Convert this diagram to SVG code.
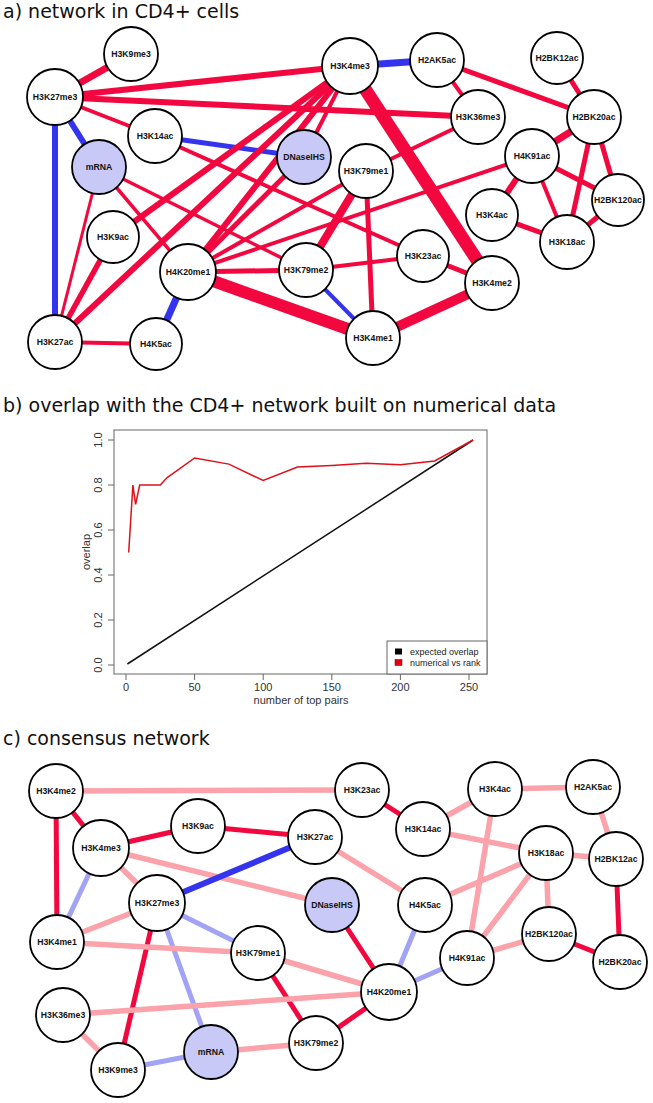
<svg xmlns="http://www.w3.org/2000/svg" width="653" height="1103" viewBox="0 0 653 1103">
<style>
.title{font-family:"DejaVu Sans",Verdana,sans-serif;font-size:19px;fill:#111}
.nd circle{fill:#fff;stroke:#000;stroke-width:1.8}
.nd.f circle{fill:#c9c9f7}
.nd text{font-family:"Liberation Sans",Arial,sans-serif;font-weight:bold;font-size:8.7px;text-anchor:middle;fill:#111}
.e line{stroke-linecap:butt}
.r{stroke:#f2073e}
.lr{stroke:#fba2aa}
.b{stroke:#3434ee}
.lb{stroke:#a3a3f6}
.ax{font-family:"Liberation Sans",Arial,sans-serif;font-size:11px;fill:#333}
.lg{font-family:"Liberation Sans",Arial,sans-serif;font-size:9px;fill:#222}
</style>
<rect width="653" height="1103" fill="#fff"/>
<text class="title" x="3" y="18">a) network in CD4+ cells</text>
<text class="title" x="3" y="412">b) overlap with the CD4+ network built on numerical data</text>
<text class="title" x="3" y="745">c) consensus network</text>

<g id="edges-a" class="e">
<line class="r" stroke-width="7" x1="131" y1="54" x2="55" y2="97"/>
<line class="r" stroke-width="6" x1="55" y1="97" x2="350" y2="66"/>
<line class="r" stroke-width="6" x1="55" y1="97" x2="478" y2="117"/>
<line class="r" stroke-width="4" x1="55" y1="97" x2="155" y2="136"/>
<line class="b" stroke-width="6" x1="55" y1="97" x2="99" y2="167"/>
<line class="b" stroke-width="6" x1="55" y1="97" x2="55" y2="342"/>
<line class="b" stroke-width="5" x1="155" y1="136" x2="304" y2="157"/>
<line class="r" stroke-width="4" x1="155" y1="136" x2="423" y2="256"/>
<line class="r" stroke-width="3.5" x1="99" y1="167" x2="306" y2="270"/>
<line class="r" stroke-width="3.5" x1="99" y1="167" x2="188" y2="272"/>
<line class="r" stroke-width="3" x1="99" y1="167" x2="55" y2="342"/>
<line class="r" stroke-width="5.5" x1="113" y1="237" x2="55" y2="342"/>
<line class="r" stroke-width="6" x1="113" y1="237" x2="350" y2="66"/>
<line class="r" stroke-width="6" x1="55" y1="342" x2="350" y2="66"/>
<line class="r" stroke-width="4" x1="55" y1="342" x2="156" y2="344"/>
<line class="b" stroke-width="7" x1="156" y1="344" x2="188" y2="272"/>
<line class="r" stroke-width="6" x1="188" y1="272" x2="350" y2="66"/>
<line class="r" stroke-width="5" x1="188" y1="272" x2="304" y2="157"/>
<line class="r" stroke-width="4" x1="188" y1="272" x2="366" y2="171"/>
<line class="r" stroke-width="4" x1="188" y1="272" x2="532" y2="156"/>
<line class="r" stroke-width="5" x1="188" y1="272" x2="306" y2="270"/>
<line class="r" stroke-width="12" x1="188" y1="272" x2="373" y2="338"/>
<line class="b" stroke-width="7" x1="350" y1="66" x2="437" y2="60"/>
<line class="r" stroke-width="4" x1="350" y1="66" x2="304" y2="157"/>
<line class="r" stroke-width="13" x1="350" y1="66" x2="492" y2="283"/>
<line class="r" stroke-width="4" x1="437" y1="60" x2="478" y2="117"/>
<line class="r" stroke-width="5" x1="437" y1="60" x2="594" y2="117"/>
<line class="r" stroke-width="5" x1="557" y1="58" x2="594" y2="117"/>
<line class="r" stroke-width="4" x1="478" y1="117" x2="366" y2="171"/>
<line class="r" stroke-width="8" x1="366" y1="171" x2="306" y2="270"/>
<line class="r" stroke-width="5" x1="366" y1="171" x2="373" y2="338"/>
<line class="r" stroke-width="4" x1="306" y1="270" x2="423" y2="256"/>
<line class="b" stroke-width="4" x1="306" y1="270" x2="373" y2="338"/>
<line class="r" stroke-width="5" x1="423" y1="256" x2="492" y2="283"/>
<line class="r" stroke-width="10" x1="492" y1="283" x2="373" y2="338"/>
<line class="r" stroke-width="7" x1="594" y1="117" x2="532" y2="156"/>
<line class="r" stroke-width="5" x1="594" y1="117" x2="567" y2="242"/>
<line class="r" stroke-width="5" x1="594" y1="117" x2="618" y2="200"/>
<line class="r" stroke-width="6" x1="532" y1="156" x2="492" y2="215"/>
<line class="r" stroke-width="4" x1="532" y1="156" x2="567" y2="242"/>
<line class="r" stroke-width="5" x1="532" y1="156" x2="618" y2="200"/>
<line class="r" stroke-width="5" x1="492" y1="215" x2="567" y2="242"/>
<line class="r" stroke-width="5" x1="567" y1="242" x2="618" y2="200"/>
</g>

<g id="a-H3K9me3" class="nd"><circle cx="131" cy="54" r="27"/><text x="131" y="57.1">H3K9me3</text></g>
<g id="a-H3K27me3" class="nd"><circle cx="55" cy="97" r="28"/><text x="55" y="100.1">H3K27me3</text></g>
<g id="a-H3K14ac" class="nd"><circle cx="155" cy="136" r="27"/><text x="155" y="139.1">H3K14ac</text></g>
<g id="a-mRNA" class="nd f"><circle cx="99" cy="167" r="27"/><text x="99" y="170.1">mRNA</text></g>
<g id="a-DNaseIHS" class="nd f"><circle cx="304" cy="157" r="27"/><text x="304" y="160.1">DNaseIHS</text></g>
<g id="a-H3K4me3" class="nd"><circle cx="350" cy="66" r="28"/><text x="350" y="69.1">H3K4me3</text></g>
<g id="a-H2AK5ac" class="nd"><circle cx="437" cy="60" r="27"/><text x="437" y="63.1">H2AK5ac</text></g>
<g id="a-H2BK12ac" class="nd"><circle cx="557" cy="58" r="26"/><text x="557" y="61.1">H2BK12ac</text></g>
<g id="a-H3K36me3" class="nd"><circle cx="478" cy="117" r="27"/><text x="478" y="120.1">H3K36me3</text></g>
<g id="a-H2BK20ac" class="nd"><circle cx="594" cy="117" r="27"/><text x="594" y="120.1">H2BK20ac</text></g>
<g id="a-H4K91ac" class="nd"><circle cx="532" cy="156" r="27"/><text x="532" y="159.1">H4K91ac</text></g>
<g id="a-H3K79me1" class="nd"><circle cx="366" cy="171" r="27"/><text x="366" y="174.1">H3K79me1</text></g>
<g id="a-H2BK120ac" class="nd"><circle cx="618" cy="200" r="26"/><text x="618" y="203.1">H2BK120ac</text></g>
<g id="a-H3K4ac" class="nd"><circle cx="492" cy="215" r="26"/><text x="492" y="218.1">H3K4ac</text></g>
<g id="a-H3K18ac" class="nd"><circle cx="567" cy="242" r="27"/><text x="567" y="245.1">H3K18ac</text></g>
<g id="a-H3K23ac" class="nd"><circle cx="423" cy="256" r="26"/><text x="423" y="259.1">H3K23ac</text></g>
<g id="a-H3K4me2" class="nd"><circle cx="492" cy="283" r="27"/><text x="492" y="286.1">H3K4me2</text></g>
<g id="a-H3K4me1" class="nd"><circle cx="373" cy="338" r="27"/><text x="373" y="341.1">H3K4me1</text></g>
<g id="a-H3K79me2" class="nd"><circle cx="306" cy="270" r="27"/><text x="306" y="273.1">H3K79me2</text></g>
<g id="a-H4K20me1" class="nd"><circle cx="188" cy="272" r="28"/><text x="188" y="275.1">H4K20me1</text></g>
<g id="a-H3K9ac" class="nd"><circle cx="113" cy="237" r="26"/><text x="113" y="240.1">H3K9ac</text></g>
<g id="a-H3K27ac" class="nd"><circle cx="55" cy="342" r="27"/><text x="55" y="345.1">H3K27ac</text></g>
<g id="a-H4K5ac" class="nd"><circle cx="156" cy="344" r="26"/><text x="156" y="347.1">H4K5ac</text></g>

<g id="plot-b">
<rect x="114" y="430" width="373" height="244" fill="none" stroke="#666" stroke-width="1"/>
<g stroke="#666" stroke-width="1">
<line x1="114" y1="665" x2="108" y2="665"/><line x1="114" y1="620" x2="108" y2="620"/><line x1="114" y1="575" x2="108" y2="575"/><line x1="114" y1="530" x2="108" y2="530"/><line x1="114" y1="485" x2="108" y2="485"/><line x1="114" y1="440" x2="108" y2="440"/>
<line x1="126" y1="674" x2="126" y2="680"/><line x1="194.6" y1="674" x2="194.6" y2="680"/><line x1="263.2" y1="674" x2="263.2" y2="680"/><line x1="331.8" y1="674" x2="331.8" y2="680"/><line x1="400.4" y1="674" x2="400.4" y2="680"/><line x1="469" y1="674" x2="469" y2="680"/>
</g>
<g class="ax" text-anchor="middle">
<text transform="translate(102,665) rotate(-90)">0.0</text>
<text transform="translate(102,620) rotate(-90)">0.2</text>
<text transform="translate(102,575) rotate(-90)">0.4</text>
<text transform="translate(102,530) rotate(-90)">0.6</text>
<text transform="translate(102,485) rotate(-90)">0.8</text>
<text transform="translate(102,440) rotate(-90)">1.0</text>
<text transform="translate(90,552) rotate(-90)">overlap</text>
<text x="126" y="691">0</text><text x="194.6" y="691">50</text><text x="263.2" y="691">100</text><text x="331.8" y="691">150</text><text x="400.4" y="691">200</text><text x="469" y="691">250</text>
<text x="301" y="704">number of top pairs</text>
</g>
<line x1="127.4" y1="664" x2="473.1" y2="440" stroke="#111" stroke-width="1.5"/>
<polyline fill="none" stroke="#e0101a" stroke-width="1.5" points="128.7,552.5 132.9,485 135.6,504.3 139.7,485 160.3,485 167.2,477.6 194.6,458 228.9,464.1 263.2,480.5 297.5,467 331.8,465.4 366.1,463.2 400.4,464.8 434.7,460.9 473.1,440"/>
<rect x="387" y="641" width="100" height="33" fill="#fff" stroke="#666" stroke-width="1"/>
<rect x="395" y="648.5" width="7" height="6" fill="#000"/>
<rect x="395" y="659.5" width="7" height="6" fill="#e00010" stroke="#600" stroke-width="0.5"/>
<text class="lg" x="410" y="655">expected overlap</text>
<text class="lg" x="410" y="666">numerical vs rank</text>
</g>

<g id="edges-c" class="e">
<line class="lr" stroke-width="5.5" x1="56" y1="791" x2="362" y2="790"/>
<line class="r" stroke-width="5" x1="56" y1="791" x2="101" y2="848"/>
<line class="r" stroke-width="5" x1="56" y1="791" x2="57" y2="942"/>
<line class="r" stroke-width="5" x1="101" y1="848" x2="198" y2="826"/>
<line class="lr" stroke-width="5.5" x1="101" y1="848" x2="332" y2="905"/>
<line class="lr" stroke-width="5.5" x1="101" y1="848" x2="157" y2="903"/>
<line class="lb" stroke-width="5" x1="101" y1="848" x2="57" y2="942"/>
<line class="r" stroke-width="5" x1="198" y1="826" x2="315" y2="837"/>
<line class="b" stroke-width="6" x1="315" y1="837" x2="157" y2="903"/>
<line class="lr" stroke-width="5.5" x1="315" y1="837" x2="425" y2="905"/>
<line class="lr" stroke-width="5.5" x1="157" y1="903" x2="57" y2="942"/>
<line class="lb" stroke-width="5" x1="157" y1="903" x2="258" y2="953"/>
<line class="r" stroke-width="5" x1="157" y1="903" x2="118" y2="1070"/>
<line class="lb" stroke-width="5" x1="157" y1="903" x2="211" y2="1052"/>
<line class="lr" stroke-width="5.5" x1="57" y1="942" x2="258" y2="953"/>
<line class="lr" stroke-width="5.5" x1="258" y1="953" x2="389" y2="992"/>
<line class="r" stroke-width="5" x1="258" y1="953" x2="316" y2="1043"/>
<line class="r" stroke-width="5" x1="332" y1="905" x2="389" y2="992"/>
<line class="lb" stroke-width="5" x1="425" y1="905" x2="389" y2="992"/>
<line class="lr" stroke-width="5.5" x1="425" y1="905" x2="546" y2="853"/>
<line class="lb" stroke-width="5" x1="389" y1="992" x2="467" y2="958"/>
<line class="lr" stroke-width="5.5" x1="389" y1="992" x2="63" y2="1015"/>
<line class="r" stroke-width="5" x1="389" y1="992" x2="316" y2="1043"/>
<line class="lr" stroke-width="5.5" x1="63" y1="1015" x2="118" y2="1070"/>
<line class="lb" stroke-width="5" x1="118" y1="1070" x2="211" y2="1052"/>
<line class="lr" stroke-width="5.5" x1="211" y1="1052" x2="316" y2="1043"/>
<line class="r" stroke-width="5" x1="362" y1="790" x2="423" y2="829"/>
<line class="lr" stroke-width="5.5" x1="423" y1="829" x2="495" y2="789"/>
<line class="lr" stroke-width="5.5" x1="423" y1="829" x2="546" y2="853"/>
<line class="lr" stroke-width="5.5" x1="495" y1="789" x2="593" y2="787"/>
<line class="lr" stroke-width="5.5" x1="495" y1="789" x2="467" y2="958"/>
<line class="lr" stroke-width="5.5" x1="593" y1="787" x2="616" y2="859"/>
<line class="lr" stroke-width="5.5" x1="546" y1="853" x2="616" y2="859"/>
<line class="lr" stroke-width="5.5" x1="546" y1="853" x2="467" y2="958"/>
<line class="lr" stroke-width="5.5" x1="546" y1="853" x2="549" y2="934"/>
<line class="lr" stroke-width="5.5" x1="549" y1="934" x2="467" y2="958"/>
<line class="r" stroke-width="5" x1="549" y1="934" x2="620" y2="962"/>
<line class="r" stroke-width="5" x1="616" y1="859" x2="620" y2="962"/>
</g>

<g id="c-H3K4me2" class="nd"><circle cx="56" cy="791" r="27"/><text x="56" y="794.1">H3K4me2</text></g>
<g id="c-H3K4me3" class="nd"><circle cx="101" cy="848" r="28"/><text x="101" y="851.1">H3K4me3</text></g>
<g id="c-H3K9ac" class="nd"><circle cx="198" cy="826" r="27"/><text x="198" y="829.1">H3K9ac</text></g>
<g id="c-H3K27ac" class="nd"><circle cx="315" cy="837" r="27"/><text x="315" y="840.1">H3K27ac</text></g>
<g id="c-H3K27me3" class="nd"><circle cx="157" cy="903" r="28"/><text x="157" y="906.1">H3K27me3</text></g>
<g id="c-DNaseIHS" class="nd f"><circle cx="332" cy="905" r="27"/><text x="332" y="908.1">DNaseIHS</text></g>
<g id="c-H3K4me1" class="nd"><circle cx="57" cy="942" r="27"/><text x="57" y="945.1">H3K4me1</text></g>
<g id="c-H3K79me1" class="nd"><circle cx="258" cy="953" r="27"/><text x="258" y="956.1">H3K79me1</text></g>
<g id="c-H3K23ac" class="nd"><circle cx="362" cy="790" r="27"/><text x="362" y="793.1">H3K23ac</text></g>
<g id="c-H3K14ac" class="nd"><circle cx="423" cy="829" r="27"/><text x="423" y="832.1">H3K14ac</text></g>
<g id="c-H3K4ac" class="nd"><circle cx="495" cy="789" r="27"/><text x="495" y="792.1">H3K4ac</text></g>
<g id="c-H2AK5ac" class="nd"><circle cx="593" cy="787" r="27"/><text x="593" y="790.1">H2AK5ac</text></g>
<g id="c-H3K18ac" class="nd"><circle cx="546" cy="853" r="27"/><text x="546" y="856.1">H3K18ac</text></g>
<g id="c-H2BK12ac" class="nd"><circle cx="616" cy="859" r="27"/><text x="616" y="862.1">H2BK12ac</text></g>
<g id="c-H4K5ac" class="nd"><circle cx="425" cy="905" r="27"/><text x="425" y="908.1">H4K5ac</text></g>
<g id="c-H2BK120ac" class="nd"><circle cx="549" cy="934" r="27"/><text x="549" y="937.1">H2BK120ac</text></g>
<g id="c-H4K91ac" class="nd"><circle cx="467" cy="958" r="27"/><text x="467" y="961.1">H4K91ac</text></g>
<g id="c-H2BK20ac" class="nd"><circle cx="620" cy="962" r="27"/><text x="620" y="965.1">H2BK20ac</text></g>
<g id="c-H4K20me1" class="nd"><circle cx="389" cy="992" r="28"/><text x="389" y="995.1">H4K20me1</text></g>
<g id="c-H3K36me3" class="nd"><circle cx="63" cy="1015" r="27"/><text x="63" y="1018.1">H3K36me3</text></g>
<g id="c-H3K9me3" class="nd"><circle cx="118" cy="1070" r="27"/><text x="118" y="1073.1">H3K9me3</text></g>
<g id="c-mRNA" class="nd f"><circle cx="211" cy="1052" r="27"/><text x="211" y="1055.1">mRNA</text></g>
<g id="c-H3K79me2" class="nd"><circle cx="316" cy="1043" r="27"/><text x="316" y="1046.1">H3K79me2</text></g>
</svg>
